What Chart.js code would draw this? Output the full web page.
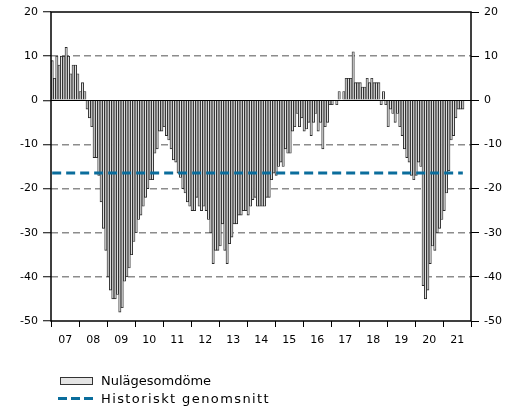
<!DOCTYPE html>
<html lang="sv">
<head>
<meta charset="UTF-8">
<title>Nulägesomdöme</title>
<script src="https://cdn.jsdelivr.net/npm/chart.js"></script>
<style>
  body { margin: 0; background: #fff; }
  .wrap { position: relative; width: 526px; height: 409px; font-family: "DejaVu Sans", Verdana, sans-serif; }
  .legend-item { position: absolute; left: 58px; height: 14px; font-size: 13px; line-height: 14px; color: #000; white-space: nowrap; }
  .legend-item span.txt { position: absolute; left: 43px; top: 0; }
  .box { position: absolute; left: 2px; top: 3px; width: 31px; height: 6px; background: #e4e4e4; border: 1px solid #333; }
  .dash { position: absolute; left: 0; top: 5px; width: 35px; height: 3px;
          background: repeating-linear-gradient(to right, #0a6d9c 0 9px, transparent 9px 13px); }
</style>
</head>
<body>
<div class="wrap">
  <canvas id="chart" width="526" height="409"></canvas>
  <div class="legend-item" style="top:374px"><div class="box"></div><span class="txt">Nulägesomdöme</span></div>
  <div class="legend-item" style="top:392px"><div class="dash"></div><span class="txt" style="letter-spacing:1.4px">Historiskt genomsnitt</span></div>
</div>

<script>
// år på x-axeln (en etikett per år, 12 månader var)
const years = ['07', '08', '09', '10', '11', '12', '13', '14', '15', '16', '17', '18', '19', '20', '21'];

// Nulägesomdöme, månadsvärden jan 2007 - sep 2021 (nettotal)
const nulage = [
  9, 5, 10, 8, 10, 10, 12, 10, 6, 8, 8, 6,                          // 2007
  2, 4, 2, -2, -4, -6, -13, -13, -17, -23, -29, -34,                // 2008
  -40, -43, -45, -45, -44, -48, -47, -41, -40, -38, -35, -32,       // 2009
  -30, -27, -26, -24, -22, -20, -18, -18, -12, -11, -7, -7,         // 2010
  -6, -8, -9, -11, -13.5, -14, -16.5, -17.5, -20, -21, -23, -24,    // 2011
  -25, -25, -22, -24, -25, -24, -25, -27, -30, -37, -34, -34,       // 2012
  -33, -28, -34, -37, -32.5, -31, -28, -28, -26, -26, -25, -25,     // 2013
  -26, -24, -22.5, -22, -24, -24, -24, -24, -22, -22, -18, -16.5,   // 2014
  -17, -15, -14, -15, -11, -12, -12, -7, -6, -3, -6, -4,            // 2015
  -7, -6.5, -5, -8, -5, -3, -7, -5, -11, -6, -5, -1,                // 2016
  -1, 0, -1, 2, 0, 2, 5, 5, 5, 11, 4, 4,                            // 2017
  4, 3, 3, 5, 4, 5, 4, 4, 4, -1, 2, -1,                             // 2018
  -6, -2, -3, -5, -3, -6, -8, -11, -13, -14, -17, -18,              // 2019
  -17, -14, -15, -42, -45, -43, -37, -33, -34, -30, -29, -27,       // 2020
  -25, -21, -16, -9, -8, -4, -2, -2, -2                             // 2021
];

// historiskt genomsnitt
const histSnitt = -16.5;
const yTicks = [-50, -40, -30, -20, -10, 0, 10, 20];

// en kategori per månad
const labels = [];
years.forEach(y => { for (let m = 1; m <= 12; m++) labels.push(y + '-' + m); });
const snittLinje = nulage.map(() => histSnitt);

const fontSpec = { family: '"DejaVu Sans", Verdana, sans-serif', size: 11 };

// ram + nollinje
const framePlugin = {
  id: 'frame',
  afterDatasetsDraw(chart) {
    const { ctx, chartArea: a, scales } = chart;
    const y0 = Math.round(scales.y.getPixelForValue(0)) + 0.5;
    ctx.save();
    ctx.strokeStyle = '#000';
    ctx.lineWidth = 1;
    ctx.beginPath();
    ctx.moveTo(a.left, y0);
    ctx.lineTo(a.right, y0);
    ctx.stroke();
    ctx.lineWidth = 1.5;
    ctx.strokeRect(a.left, a.top, a.right - a.left, a.bottom - a.top);
    ctx.restore();
  }
};

new Chart(document.getElementById('chart'), {
  type: 'bar',
  data: {
    labels: labels,
    datasets: [
      {
        type: 'line',
        label: 'Historiskt genomsnitt',
        data: snittLinje,
        borderColor: '#0a6d9c',
        borderWidth: 3,
        borderDash: [9, 5],
        pointRadius: 0,
        fill: false,
        order: 0
      },
      {
        label: 'Nulägesomdöme',
        data: nulage,
        backgroundColor: '#e0e0e0',
        borderColor: '#2a2a2a',
        borderWidth: 0.9,
        barPercentage: 1,
        categoryPercentage: 1,
        order: 1
      }
    ]
  },
  options: {
    responsive: false,
    animation: false,
    devicePixelRatio: 1,
    layout: { padding: { top: 12, bottom: 58, left: 0, right: 0 } },
    plugins: { legend: { display: false }, tooltip: { enabled: false } },
    scales: {
      x: {
        offset: true,
        grid: {
          offset: true,
          drawOnChartArea: false,
          tickLength: 6,
          color: c => (c.index === undefined || c.index % 12 === 0) ? '#000' : 'rgba(0,0,0,0)'
        },
        border: { display: false },
        ticks: {
          autoSkip: false, maxRotation: 0, minRotation: 0,
          padding: 7, color: '#000', font: fontSpec, labelOffset: -1,
          callback: (v, i) => (i % 12 === 6) ? years[Math.floor(i / 12)] : ''
        },
        afterFit: s => { s.height = 30; }
      },
      y: {
        position: 'left',
        min: -50, max: 20,
        afterBuildTicks: s => { s.ticks = yTicks.map(v => ({ value: v })); },
        grid: {
          color: c => [0, 20, -50].includes(c.tick && c.tick.value) ? 'rgba(0,0,0,0)' : '#8c8c8c',
          lineWidth: 1.5,
          tickColor: '#000',
          tickWidth: 1,
          tickLength: 8
        },
        border: { display: false, dash: [7, 4] },
        ticks: { color: '#000', font: fontSpec, padding: 5 },
        afterFit: s => { s.width = 51; }
      },
      y2: {
        position: 'right',
        min: -50, max: 20,
        afterBuildTicks: s => { s.ticks = yTicks.map(v => ({ value: v })); },
        grid: { drawOnChartArea: false, tickColor: '#000', tickLength: 8 },
        border: { display: false },
        ticks: { color: '#000', font: fontSpec, padding: 5 },
        afterFit: s => { s.width = 55; }
      }
    }
  },
  plugins: [framePlugin]
});
</script>
</body>
</html>
